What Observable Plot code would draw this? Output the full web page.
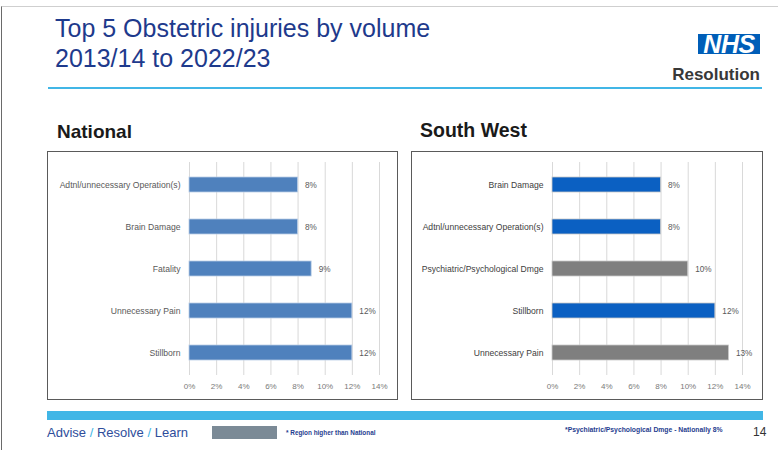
<!DOCTYPE html>
<html>
<head>
<meta charset="utf-8">
<script src="https://cdn.jsdelivr.net/npm/d3@7"></script>
<script src="https://cdn.jsdelivr.net/npm/@observablehq/plot@0.6"></script>
<style>
  html, body { margin: 0; padding: 0; background: #fff; }
  #page { position: relative; width: 778px; height: 450px; overflow: hidden; background: #fff;
          font-family: "Liberation Sans", Arial, sans-serif; }
  .abs { position: absolute; white-space: nowrap; line-height: 1; }
  .box { position: absolute; border: 1px solid #5a5a5a; box-sizing: border-box; background: #fff; }
  .box svg { display: block; }
</style>
</head>
<body>
<div id="page">
  <div class="abs" style="left:1px;top:6px;width:800px;height:460px;border-left:1px solid #6a6a6a;border-top:1px solid #cfcfcf;"></div>

  <div class="abs" id="title1" style="left:55px;top:15.8px;font-size:25px;color:#1e3a8c;"></div>
  <div class="abs" id="title2" style="left:55px;top:45.8px;font-size:25px;color:#1e3a8c;"></div>

  <div class="abs" style="left:698px;top:34px;width:62px;height:20px;background:#005eb8;color:#fff;font-weight:bold;font-style:italic;font-size:25px;line-height:20px;text-align:center;letter-spacing:-0.5px;">NHS</div>
  <div class="abs" style="right:18px;top:65.6px;font-size:17px;font-weight:bold;color:#383838;">Resolution</div>

  <div class="abs" style="left:48px;top:86.5px;width:714px;height:2.5px;background:#41b6e6;"></div>

  <div class="abs" id="h1" style="left:57px;top:121.9px;font-size:19px;font-weight:bold;color:#1a1a1a;"></div>
  <div class="abs" id="h2" style="left:420px;top:120.5px;font-size:19.5px;font-weight:bold;color:#1a1a1a;"></div>

  <div class="box" id="boxL" style="left:47px;top:151px;width:351px;height:249px;"></div>
  <div class="box" id="boxR" style="left:411px;top:151px;width:352px;height:249px;"></div>

  <div class="abs" style="left:47px;top:411px;width:716px;height:9px;background:#41b6e6;"></div>

  <div class="abs" style="left:47px;top:426px;font-size:13px;color:#2e4d9b;">Advise <span style="color:#41b6e6">/</span> Resolve <span style="color:#41b6e6">/</span> Learn</div>
  <div class="abs" style="left:212px;top:426px;width:65px;height:13px;background:#7b8a96;"></div>
  <div class="abs" id="legendNote" style="left:286px;top:429.6px;font-size:6.4px;font-weight:bold;color:#1f3d8f;"></div>
  <div class="abs" id="footNote" style="left:565px;top:427.3px;font-size:6.8px;font-weight:bold;color:#1f3d8f;"></div>
  <div class="abs" style="left:753px;top:425.8px;font-size:12px;color:#333;">14</div>
</div>
<script>
// ---- data ----
const titleLines = ["Top 5 Obstetric injuries by volume", "2013/14 to 2022/23"];
const panelTitles = ["National", "South West"];
const nationalCats = ["Adtnl/unnecessary Operation(s)", "Brain Damage", "Fatality", "Unnecessary Pain", "Stillborn"];
const nationalVals = [8, 8, 9, 12, 12];
const swCats = ["Brain Damage", "Adtnl/unnecessary Operation(s)", "Psychiatric/Psychological Dmge", "Stillborn", "Unnecessary Pain"];
const swVals = [8, 8, 10, 12, 13];
const swHigher = [false, false, true, false, true];
const xTicks = [0, 2, 4, 6, 8, 10, 12, 14];
const legendText = "* Region higher than National";
const footText = "*Psychiatric/Psychological Dmge - Nationally 8%";

document.getElementById("title1").textContent = titleLines[0];
document.getElementById("title2").textContent = titleLines[1];
document.getElementById("h1").textContent = panelTitles[0];
document.getElementById("h2").textContent = panelTitles[1];
document.getElementById("legendNote").textContent = legendText;
document.getElementById("footNote").textContent = footText;

function chart(cats, vals, colors, opts) {
  const rows = cats.map((c, i) => ({cat: c, v: vals[i], color: colors[i]}));
  return Plot.plot({
    width: opts.width,
    height: 247,
    marginLeft: opts.marginLeft,
    marginRight: opts.marginRight,
    marginTop: 10,
    marginBottom: 24,
    style: {fontFamily: '"Liberation Sans", Arial, sans-serif', background: "#fff"},
    x: {domain: [0, 14]},
    y: {domain: cats, paddingInner: 0.64, paddingOuter: 0.32},
    marks: [
      Plot.gridX(xTicks, {stroke: "#d9d9d9", strokeOpacity: 1}),
      Plot.barX(rows, {x: "v", y: "cat", fill: "color", stroke: opts.barStroke, strokeWidth: 0.8}),
      Plot.text(rows, {x: "v", y: "cat", text: d => d.v + "%", dx: 7, textAnchor: "start", fontSize: 8.2, fill: "#595959"}),
      Plot.axisY({tickSize: 0, tickPadding: 9, fontSize: 8.6, color: opts.labelColor, label: null}),
      Plot.axisX(xTicks, {tickSize: 0, tickPadding: 8, fontSize: 8, color: "#7a7a7a", tickFormat: d => d + "%", label: null})
    ]
  });
}

document.getElementById("boxL").appendChild(
  chart(nationalCats, nationalVals, nationalCats.map(() => "#4f81bd"),
        {width: 349, marginLeft: 141, marginRight: 18, labelColor: "#595959", barStroke: "#b9cde6"}));
document.getElementById("boxR").appendChild(
  chart(swCats, swVals, swHigher.map(h => h ? "#7f7f7f" : "#0b60c2"),
        {width: 350, marginLeft: 140, marginRight: 20, labelColor: "#404040", barStroke: "#c9c9c9"}));
</script>
</body>
</html>
